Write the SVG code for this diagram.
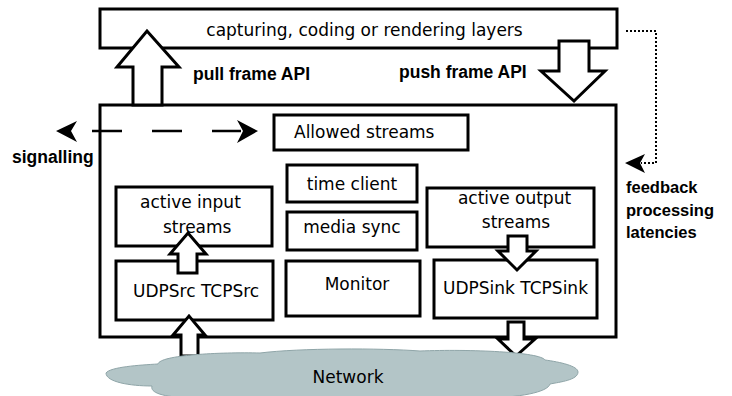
<svg xmlns="http://www.w3.org/2000/svg" width="732" height="396" viewBox="0 0 732 396">
<style>
.box{fill:#fff;stroke:#000;stroke-width:3}
.t{font-family:"DejaVu Sans",Verdana,sans-serif;font-size:17px;fill:#000}
.b{font-family:"Liberation Sans",Arial,sans-serif;font-size:17.5px;font-weight:bold;fill:#000}
.bs{font-size:16.5px}
.blk{fill:#fff;stroke:#000;stroke-width:3;stroke-linejoin:miter}
.head{fill:#000;stroke:none}
</style>
<rect width="732" height="396" fill="#fff"/>
<g id="layers">
<rect class="box" x="100" y="9" width="517" height="39"/>
<text class="t" x="364.5" y="36" text-anchor="middle">capturing, coding or rendering layers</text>
</g>
<g id="engine">
<rect class="box" x="100" y="105" width="516" height="232"/>
</g>
<g id="allowed">
<rect class="box" x="274" y="115" width="194" height="35"/>
<text class="t" x="294" y="138">Allowed streams</text>
</g>
<g id="timeclient">
<rect class="box" x="287" y="165" width="130" height="37"/>
<text class="t" x="352" y="190" text-anchor="middle">time client</text>
</g>
<g id="mediasync">
<rect class="box" x="287" y="212" width="130" height="38"/>
<text class="t" x="352" y="233" text-anchor="middle">media sync</text>
</g>
<g id="monitor">
<rect class="box" x="286" y="261" width="134" height="55"/>
<text class="t" x="357" y="290" text-anchor="middle">Monitor</text>
</g>
<g id="inputstreams">
<rect class="box" x="116" y="187" width="156" height="59"/>
<text class="t" x="140" y="208">active input</text>
<text class="t" x="163" y="233">streams</text>
</g>
<g id="udpsrc">
<rect class="box" x="116" y="261" width="157" height="59"/>
<text class="t" x="133" y="297">UDPSrc TCPSrc</text>
</g>
<g id="outputstreams">
<rect class="box" x="427" y="188" width="167" height="59"/>
<text class="t" x="514.5" y="204" text-anchor="middle">active output</text>
<text class="t" x="516" y="228" text-anchor="middle">streams</text>
</g>
<g id="udpsink">
<rect class="box" x="434" y="260" width="163" height="58"/>
<text class="t" x="515.5" y="294" text-anchor="middle">UDPSink TCPSink</text>
</g>
<g id="connectors">
<polygon class="blk" points="133,105 133,67 117,67 147,31 179,67 162,67 162,105"/>
<text class="b" x="193" y="80">pull frame API</text>
<polygon class="blk" points="559,41 589,41 589,71 605,71 574,101 541,71 559,71"/>
<text class="b" x="399" y="78">push frame API</text>
<polygon class="blk" points="178,273 178,254 170,254 188,233 206,254 197,254 197,273"/>
<polygon class="blk" points="181,356 181,335 173,335 189,316 205,335 198,335 198,356"/>
<polygon class="blk" points="508,236 527,236 527,251 536,251 517,270 498,251 508,251"/>
<polygon class="blk" points="508,322 524,322 524,339 535,339 516,356 498,339 508,339"/>
<line x1="92" y1="131" x2="241" y2="131" stroke="#000" stroke-width="2.5" stroke-dasharray="30 30"/>
<path class="head" d="M56,131 L77,121 L71,131 L77,142 Z"/>
<path class="head" d="M258,131 L237,120 L243,131 L237,143 Z"/>
<text class="b" x="12" y="163">signalling</text>
<polyline points="626,31 656,31 656,163 641,163" fill="none" stroke="#000" stroke-width="2" stroke-dasharray="2 2"/>
<path class="head" d="M625,163 L645,154 L640,163 L645,173 Z"/>
<text class="b bs" x="626" y="193">feedback</text>
<text class="b bs" x="626" y="215.5">processing</text>
<text class="b bs" x="626" y="238">latencies</text>
</g>
<g id="network">
<path d="M106,373 C110,367 140,365 158,364 C160,355 220,352 260,353 C300,348 380,348 420,351 C470,349 540,352 545,360 C560,362 578,366 578,372 C578,380 560,382 550,384 C548,392 520,398 480,398 L200,398 C160,398 150,392 152,386 C130,386 106,382 106,373 Z" fill="#b3c5c7" stroke="#8fa5a8" stroke-width="1"/>
<text class="t" x="348" y="383" text-anchor="middle">Network</text>
</g>
</svg>
